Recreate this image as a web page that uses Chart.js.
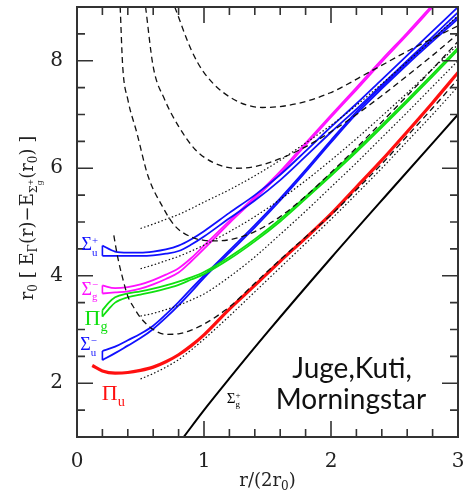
<!DOCTYPE html>
<html>
<head>
<meta charset="utf-8">
<script src="https://cdn.jsdelivr.net/npm/chart.js@4.4.1/dist/chart.umd.min.js"></script>
<style>
  html, body { margin: 0; padding: 0; background: #fff; }
  #wrap { width: 472px; height: 499px; }
</style>
</head>
<body>
<div id="wrap"><canvas id="chart"></canvas></div>
<script>
// tick labels
const xTicks = [0, 1, 2, 3];
const yTicks = [2, 4, 6, 8];

// Sigma_u^+ (blue band)
const sUpX  = [0.2, 0.3, 0.4, 0.5, 0.6, 0.7, 0.8, 0.9, 1.0, 1.2, 1.4, 1.6, 1.8, 2.0, 2.2, 2.4, 2.6, 2.8, 3.0];
const sUpHi = [4.56, 4.45, 4.43, 4.43, 4.45, 4.49, 4.56, 4.68, 4.83, 5.17, 5.50, 5.88, 6.32, 6.77, 7.20, 7.65, 8.10, 8.55, 9.00];
const sUpLo = [4.37, 4.37, 4.37, 4.37, 4.38, 4.41, 4.46, 4.58, 4.73, 5.07, 5.40, 5.78, 6.22, 6.67, 7.10, 7.55, 8.00, 8.45, 8.90];

// Sigma_g^- (magenta band)
const sGmX  = [0.2, 0.3, 0.4, 0.5, 0.6, 0.7, 0.8, 0.9, 1.0, 1.2, 1.4, 1.6, 1.8, 2.0, 2.2, 2.4, 2.6, 2.8];
const sGmHi = [3.82, 3.77, 3.79, 3.84, 3.92, 4.02, 4.14, 4.33, 4.56, 5.02, 5.47, 5.94, 6.47, 6.99, 7.50, 8.02, 8.52, 9.04];
const sGmLo = [3.67, 3.69, 3.71, 3.76, 3.84, 3.94, 4.06, 4.27, 4.50, 4.98, 5.43, 5.90, 6.43, 6.95, 7.46, 7.98, 8.48, 9.00];

// Pi_g (green band)
const pGX  = [0.2, 0.25, 0.3, 0.4, 0.5, 0.6, 0.7, 0.8, 0.9, 1.0, 1.2, 1.4, 1.6, 1.8, 2.0, 2.2, 2.4, 2.6, 2.8, 3.0];
const pGHi = [3.36, 3.50, 3.60, 3.67, 3.71, 3.76, 3.82, 3.89, 3.97, 4.07, 4.35, 4.68, 5.05, 5.47, 5.90, 6.34, 6.80, 7.27, 7.75, 8.24];
const pGLo = [3.24, 3.38, 3.50, 3.60, 3.65, 3.70, 3.76, 3.83, 3.93, 4.03, 4.31, 4.64, 5.01, 5.43, 5.86, 6.30, 6.76, 7.23, 7.71, 8.20];

// Sigma_u^- (blue band)
const sUmX  = [0.2, 0.3, 0.4, 0.5, 0.6, 0.7, 0.8, 0.9, 1.0, 1.2, 1.4, 1.6, 1.8, 2.0, 2.2, 2.4, 2.6, 2.8, 3.0];
const sUmHi = [2.60, 2.68, 2.80, 2.92, 3.07, 3.28, 3.51, 3.76, 4.00, 4.47, 4.94, 5.44, 5.97, 6.52, 7.05, 7.52, 7.97, 8.40, 8.82];
const sUmLo = [2.43, 2.56, 2.70, 2.84, 3.01, 3.22, 3.45, 3.70, 3.96, 4.43, 4.90, 5.40, 5.93, 6.48, 7.01, 7.48, 7.93, 8.36, 8.78];

// Pi_u (red)
const pUX = [0.12, 0.2, 0.3, 0.4, 0.5, 0.6, 0.7, 0.8, 0.9, 1.0, 1.2, 1.4, 1.6, 1.8, 2.0, 2.2, 2.4, 2.6, 2.8, 3.0];
const pUY = [2.33, 2.23, 2.19, 2.20, 2.24, 2.30, 2.40, 2.53, 2.70, 2.90, 3.38, 3.82, 4.27, 4.70, 5.15, 5.65, 6.15, 6.68, 7.22, 7.78];

// Sigma_g^+ (black)
const sGpX = [0.84, 1.0, 1.2, 1.5, 2.0, 2.5, 3.0];
const sGpY = [1.00, 1.50, 2.09, 2.95, 4.33, 5.67, 7.00];

// dashed curves
const d0X = [0.29, 0.32, 0.36, 0.4, 0.45, 0.5, 0.6, 0.7, 0.8, 0.9, 1.0, 1.2, 1.4, 1.6, 1.8, 2.0, 2.2, 2.4, 2.6, 2.8, 3.0];
const d0Y = [4.75, 4.35, 3.95, 3.62, 3.40, 3.22, 3.00, 2.91, 2.92, 2.99, 3.10, 3.42, 3.86, 4.30, 4.72, 5.13, 5.60, 6.08, 6.60, 7.12, 7.66];
const d1X = [0.34, 0.36, 0.4, 0.47, 0.56, 0.67, 0.77, 0.9, 1.0, 1.1, 1.2, 1.3, 1.4, 1.6, 1.8, 2.0, 2.2, 2.4, 2.6, 2.8, 3.0];
const d1Y = [9.00, 7.89, 7.28, 6.67, 5.85, 5.30, 4.93, 4.72, 4.66, 4.65, 4.67, 4.73, 4.82, 5.10, 5.48, 5.92, 6.38, 6.86, 7.35, 7.85, 8.36];
const d2X = [0.54, 0.6, 0.69, 0.8, 0.93, 1.07, 1.25, 1.4, 1.52, 1.76, 2.0, 2.2, 2.4, 2.6, 2.8, 3.0];
const d2Y = [9.00, 7.89, 7.28, 6.78, 6.35, 6.11, 6.00, 6.03, 6.11, 6.35, 6.68, 7.00, 7.35, 7.72, 8.10, 8.50];
const d3X = [0.77, 0.9, 1.0, 1.2, 1.46, 1.73, 1.99, 2.31, 2.62, 3.0];
const d3Y = [9.00, 8.20, 7.78, 7.33, 7.13, 7.20, 7.40, 7.80, 8.20, 8.65];

// dotted curves
const tX  = [0.5, 0.6, 0.7, 0.8, 0.9, 1.0, 1.2, 1.4, 1.6, 1.8, 2.0, 2.2, 2.4, 2.6, 2.8, 3.0];
const t1Y = [2.08, 2.18, 2.30, 2.44, 2.62, 2.82, 3.25, 3.70, 4.15, 4.60, 5.05, 5.52, 6.00, 6.50, 7.00, 7.52];
const t2Y = [3.25, 3.30, 3.37, 3.45, 3.55, 3.66, 3.98, 4.35, 4.77, 5.20, 5.65, 6.10, 6.57, 7.04, 7.52, 8.00];
const t3Y = [4.13, 4.20, 4.28, 4.36, 4.46, 4.57, 4.82, 5.10, 5.42, 5.77, 6.15, 6.55, 6.97, 7.40, 7.85, 8.30];
const t4Y = [4.88, 4.96, 5.05, 5.14, 5.25, 5.37, 5.60, 5.86, 6.15, 6.47, 6.80, 7.17, 7.57, 7.98, 8.40, 8.84];

const BLUE = '#1010ff', MAGENTA = '#ff10ff', GREEN = '#10e010', RED = '#ff1010';

function pts(xs, ys) {
    return xs.map((x, i) => ({ x: x, y: ys[i] }));
}

function curve(xs, ys, color, width, dash) {
    return {
        data: pts(xs, ys),
        borderColor: color,
        borderWidth: width,
        borderDash: dash || [],
        pointRadius: 0,
        fill: false,
        cubicInterpolationMode: 'monotone',
        clip: 0
    };
}

// the open end of a band at small r
function cap(xs, lo, hi, color) {
    return {
        data: [{ x: xs[0], y: lo[0] }, { x: xs[0], y: hi[0] }],
        borderColor: color, borderWidth: 1.6, pointRadius: 0, fill: false, clip: 0
    };
}

function band(xs, lo, hi, color) {
    return [curve(xs, hi, color, 1.8), curve(xs, lo, color, 1.8), cap(xs, lo, hi, color)];
}

const DASH = [6, 4];
const DOT = [1.5, 2.2];

const datasets = [
    curve(tX, t1Y, '#111', 1.2, DOT),
    curve(tX, t2Y, '#111', 1.2, DOT),
    curve(tX, t3Y, '#111', 1.2, DOT),
    curve(tX, t4Y, '#111', 1.2, DOT),
    curve(d0X, d0Y, '#111', 1.3, DASH),
    curve(d1X, d1Y, '#111', 1.3, DASH),
    curve(d2X, d2Y, '#111', 1.3, DASH),
    curve(d3X, d3Y, '#111', 1.3, DASH),
    ...band(sUpX, sUpLo, sUpHi, BLUE),
    ...band(sGmX, sGmLo, sGmHi, MAGENTA),
    ...band(pGX, pGLo, pGHi, GREEN),
    ...band(sUmX, sUmLo, sUmHi, BLUE),
    curve(pUX, pUY, RED, 3.2),
    curve(sGpX, sGpY, '#000', 2)
];

// draws a list of text runs: [text, size, dy] or {sup, sub, size}
function drawRuns(ctx, runs, x, y, family, center) {
    let total = 0;
    runs.forEach(r => {
        if (Array.isArray(r)) {
            ctx.font = r[1] + 'px ' + family;
            r.w = ctx.measureText(r[0]).width;
        } else {
            ctx.font = r.size + 'px ' + family;
            r.w = Math.max(ctx.measureText(r.sup).width, ctx.measureText(r.sub).width);
        }
        total += r.w;
    });
    let cx = center ? x - total / 2 : x;
    runs.forEach(r => {
        if (Array.isArray(r)) {
            ctx.font = r[1] + 'px ' + family;
            ctx.fillText(r[0], cx, y + r[2]);
        } else {
            ctx.font = r.size + 'px ' + family;
            ctx.fillText(r.sup, cx, y + r.supDy);
            ctx.fillText(r.sub, cx, y + r.subDy);
        }
        cx += r.w;
    });
}

const framePlugin = {
    id: 'frame',
    afterDatasetsDraw(chart) {
        const ctx = chart.ctx;
        const a = chart.chartArea;
        const sx = chart.scales.x, sy = chart.scales.y;
        ctx.save();
        ctx.strokeStyle = '#333';
        ctx.lineWidth = 2;
        ctx.strokeRect(a.left, a.top, a.right - a.left, a.bottom - a.top);

        // inward ticks on all four sides
        ctx.lineWidth = 1.6;
        ctx.beginPath();
        for (let i = 0; i <= 15; i++) {
            const v = i * 0.2;
            const L = i % 5 === 0 ? 16 : 8;
            const px = sx.getPixelForValue(v);
            ctx.moveTo(px, a.bottom); ctx.lineTo(px, a.bottom - L);
            ctx.moveTo(px, a.top); ctx.lineTo(px, a.top + L);
        }
        for (let i = 0; i <= 16; i++) {
            const v = 1 + i * 0.5;
            const L = (v % 2 === 0) ? 16 : 8;
            const py = sy.getPixelForValue(v);
            ctx.moveTo(a.left, py); ctx.lineTo(a.left + L, py);
            ctx.moveTo(a.right, py); ctx.lineTo(a.right - L, py);
        }
        ctx.stroke();

        // state labels
        const serif = '"Liberation Serif", serif';
        const lab = (x, y, color, base, size, sup, sub) => {
            ctx.fillStyle = color;
            const runs = [[base, size, 0]];
            if (sup) runs.push({ sup: sup, sub: sub, size: size * 0.6, supDy: -size * 0.36, subDy: size * 0.28 });
            else runs.push([sub, size * 0.65, size * 0.28]);
            drawRuns(ctx, runs, sx.getPixelForValue(x), sy.getPixelForValue(y), serif, false);
        };
        lab(0.035, 4.47, BLUE, 'Σ', 18, '+', 'u');
        lab(0.035, 3.65, MAGENTA, 'Σ', 18, '−', 'g');
        lab(0.06, 3.09, GREEN, 'Π', 22, null, 'g');
        lab(0.025, 2.61, BLUE, 'Σ', 18, '−', 'u');
        lab(0.195, 1.69, RED, 'Π', 22, null, 'u');
        lab(1.18, 1.63, '#000', 'Σ', 15, '+', 'g');

        // author note
        ctx.fillStyle = '#111';
        ctx.font = '28px Lato, sans-serif';
        ctx.textAlign = 'center';
        ctx.fillText('Juge,Kuti,', 352, 378);
        ctx.fillText('Morningstar', 351, 409);
        ctx.textAlign = 'left';

        // axis titles
        ctx.fillStyle = '#222';
        const tf = '"DejaVu Serif", serif';
        drawRuns(ctx, [['r/(2r', 18, 0], ['0', 12, 4], [')', 18, 0]], (a.left + a.right) / 2, 486, tf, true);

        ctx.translate(33, 218);
        ctx.rotate(-Math.PI / 2);
        drawRuns(ctx, [
            ['r', 18, 0], ['0', 12, 4], [' [ ', 18, 0], ['E', 18, 0], ['Γ', 12, 4], ['(r)', 18, 0],
            ['−', 18, 0], ['E', 18, 0], ['Σ', 11, 4], { sup: '+', sub: 'g', size: 8, supDy: 0, subDy: 9 },
            ['(r', 18, 0], ['0', 12, 4], [')', 18, 0], [' ]', 18, 0]
        ], 0, 0, tf, true);
        ctx.restore();
    }
};

new Chart(document.getElementById('chart'), {
    type: 'line',
    data: { datasets: datasets },
    options: {
        responsive: true,
        maintainAspectRatio: false,
        animation: false,
        events: [],
        layout: { padding: { left: 0, right: 14, top: 7, bottom: 0 } },
        plugins: { legend: { display: false }, tooltip: { enabled: false } },
        scales: {
            x: {
                type: 'linear', min: 0, max: 3,
                afterBuildTicks: s => { s.ticks = xTicks.map(v => ({ value: v })); },
                afterFit: s => { s.height = 62; s.paddingLeft = 0; s.paddingRight = 0; },
                grid: { display: false, drawTicks: false },
                border: { display: false },
                ticks: { color: '#222', padding: 13, maxRotation: 0, autoSkip: false,
                         font: { family: 'DejaVu Serif', size: 20 } }
            },
            y: {
                type: 'linear', min: 1, max: 9,
                afterBuildTicks: s => { s.ticks = yTicks.map(v => ({ value: v })); },
                afterFit: s => { s.width = 77; s.paddingTop = 0; s.paddingBottom = 0; },
                grid: { display: false, drawTicks: false },
                border: { display: false },
                ticks: { color: '#222', padding: 14,
                         font: { family: 'DejaVu Serif', size: 20 } }
            }
        }
    },
    plugins: [framePlugin]
});
</script>
</body>
</html>
